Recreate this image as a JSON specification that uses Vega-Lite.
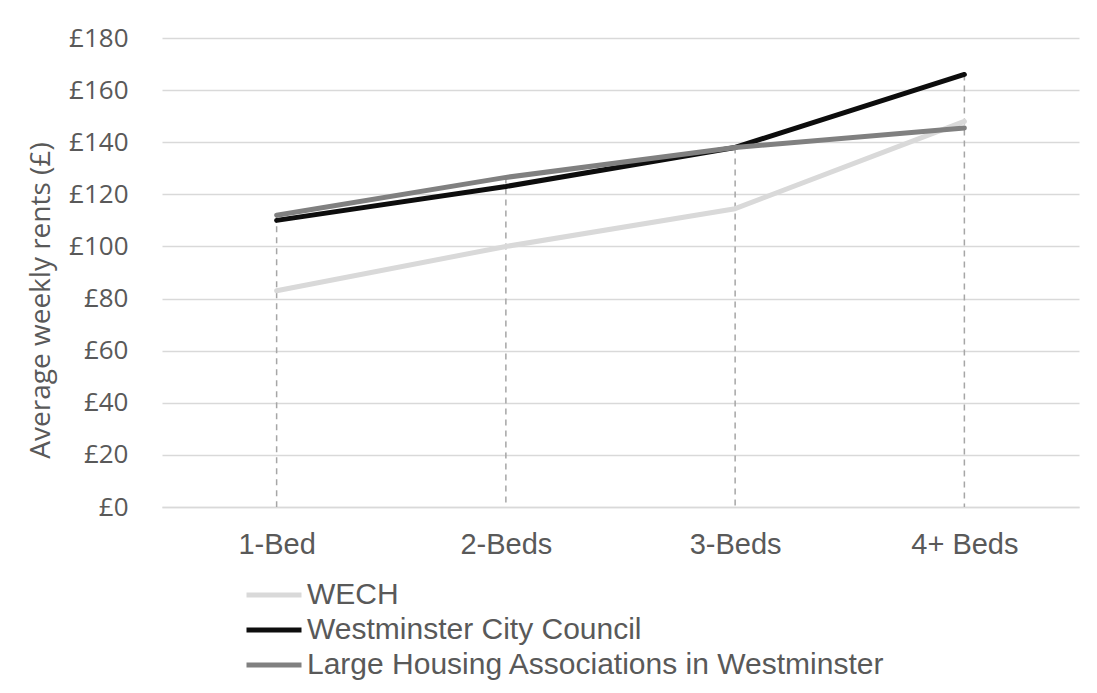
{
  "$schema": "https://vega.github.io/schema/vega-lite/v6.json",
  "width": 917,
  "height": 469,
  "autosize": {"type": "none"},
  "padding": {"left": 162, "top": 38, "right": 18, "bottom": 186},
  "background": "white",
  "data": {
    "values": [
      {"beds": "1-Bed", "series": "WECH", "rent": 83},
      {"beds": "2-Beds", "series": "WECH", "rent": 100},
      {"beds": "3-Beds", "series": "WECH", "rent": 114.5},
      {"beds": "4+ Beds", "series": "WECH", "rent": 148},
      {"beds": "1-Bed", "series": "Westminster City Council", "rent": 110},
      {"beds": "2-Beds", "series": "Westminster City Council", "rent": 123},
      {"beds": "3-Beds", "series": "Westminster City Council", "rent": 138},
      {"beds": "4+ Beds", "series": "Westminster City Council", "rent": 166},
      {"beds": "1-Bed", "series": "Large Housing Associations in Westminster", "rent": 112},
      {"beds": "2-Beds", "series": "Large Housing Associations in Westminster", "rent": 126.5},
      {"beds": "3-Beds", "series": "Large Housing Associations in Westminster", "rent": 138},
      {"beds": "4+ Beds", "series": "Large Housing Associations in Westminster", "rent": 145.5}
    ]
  },
  "encoding": {
    "x": {
      "field": "beds",
      "type": "ordinal",
      "sort": ["1-Bed", "2-Beds", "3-Beds", "4+ Beds"],
      "scale": {"type": "point", "padding": 0.5},
      "axis": {
        "title": null,
        "labelAngle": 0,
        "labelFont": "Liberation Sans",
        "labelFontSize": 29,
        "labelColor": "#595959",
        "labelPadding": 23,
        "ticks": false,
        "tickSize": 0,
        "domainColor": "#d9d9d9",
        "domainWidth": 1.5,
        "grid": false
      }
    }
  },
  "layer": [
    {
      "mark": {"type": "rule", "color": "#a6a6a6", "strokeWidth": 1.5, "strokeDash": [6, 5]},
      "encoding": {
        "y": {"aggregate": "max", "field": "rent", "type": "quantitative"},
        "y2": {"datum": 0}
      }
    },
    {
      "mark": {"type": "line", "strokeWidth": 5, "strokeCap": "round", "strokeJoin": "round"},
      "encoding": {
        "y": {
          "field": "rent",
          "type": "quantitative",
          "scale": {"domain": [0, 180]},
          "axis": {
            "title": "Average weekly rents (£)",
            "values": [0, 20, 40, 60, 80, 100, 120, 140, 160, 180],
            "format": "d",
            "labelExpr": "'£' + datum.label",
            "labelFont": "Open Sans",
            "labelFontSize": 26,
            "labelColor": "#595959",
            "labelPadding": 34,
            "ticks": false,
            "tickSize": 0,
            "domain": false,
            "grid": true,
            "gridColor": "#d9d9d9",
            "gridWidth": 1.5,
            "titleFont": "Open Sans",
            "titleFontSize": 28,
            "titleFontWeight": "normal",
            "titleColor": "#595959",
            "titleAngle": -90,
            "titleAlign": "center",
            "titleBaseline": "middle",
            "titleX": -121,
            "titleY": 262
          }
        },
        "color": {
          "field": "series",
          "type": "nominal",
          "scale": {
            "domain": ["WECH", "Westminster City Council", "Large Housing Associations in Westminster"],
            "range": ["#d9d9d9", "#0d0d0d", "#808080"]
          },
          "legend": {
            "title": null,
            "orient": "none",
            "legendX": 97,
            "legendY": 542,
            "direction": "vertical",
            "symbolType": "M-5,0H5",
            "symbolSize": 121,
            "symbolStrokeWidth": 5,
            "labelFont": "Liberation Sans",
            "labelFontSize": 30,
            "labelColor": "#595959",
            "labelOffset": 18,
            "rowPadding": 5,
            "labelLimit": 800
          }
        },
        "order": {"field": "series"}
      }
    }
  ],
  "config": {
    "view": {"stroke": null},
    "line": {"strokeCap": "round"}
  }
}
